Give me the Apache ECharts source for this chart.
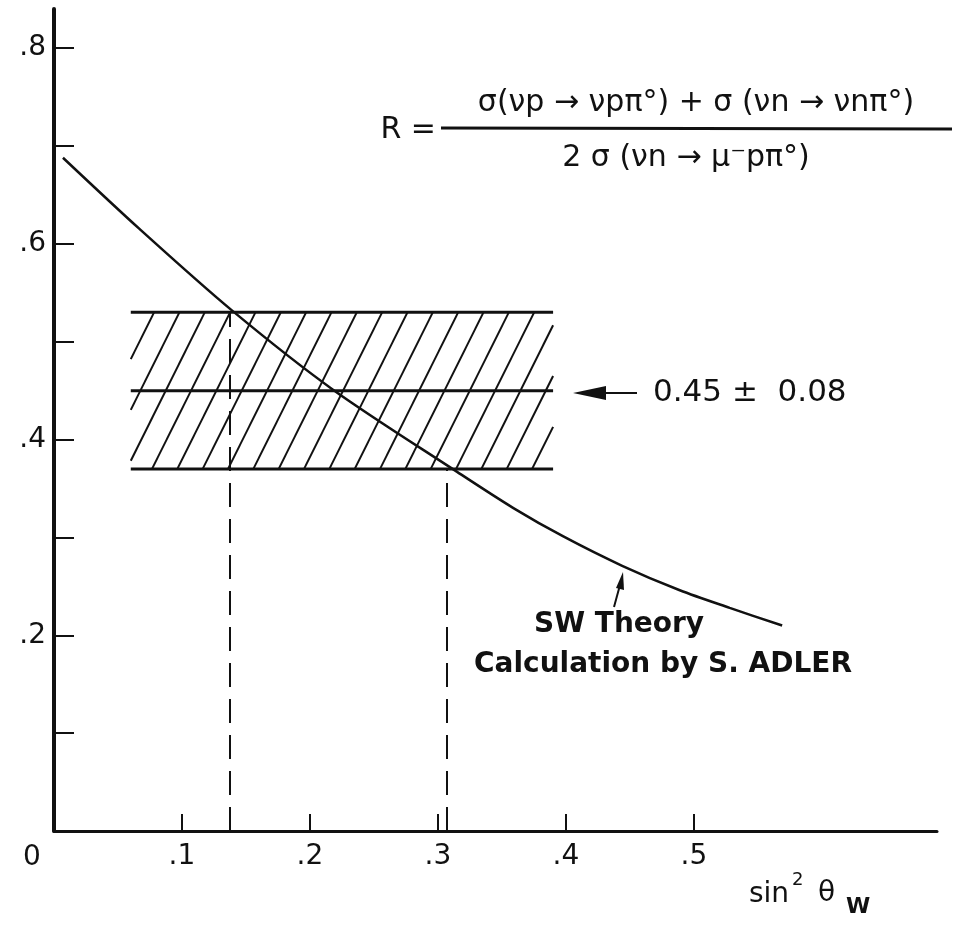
<!DOCTYPE html>
<html>
<head>
<meta charset="utf-8">
<script src="https://cdn.jsdelivr.net/npm/echarts@6/dist/echarts.min.js"></script>
<style>
  html, body { margin: 0; padding: 0; background: #fff; }
  #chart { width: 962px; height: 925px; }
</style>
</head>
<body>
<div id="chart"></div>
<script>
const xTicks = [0.1, 0.2, 0.3, 0.4, 0.5]
const xLabels = ['.1', '.2', '.3', '.4', '.5']
const yTicks = [0.1, 0.2, 0.3, 0.4, 0.5, 0.6, 0.7, 0.8]
const yLabels = ['', '.2', '', '.4', '', '.6', '', '.8']

// SW theory curve (Adler)
const curveX = [0.007, 0.067, 0.139, 0.218, 0.315, 0.359, 0.398, 0.444, 0.489, 0.528, 0.569]
const curveR = [0.688, 0.615, 0.532, 0.451, 0.367, 0.330, 0.301, 0.271, 0.246, 0.228, 0.210]

// measured R = 0.45 +- 0.08
const bandR = [0.37, 0.45, 0.53]
const bandX = [0.06, 0.39]
// where the curve meets the band edges
const crossX = [0.137, 0.307]
const crossR = [0.53, 0.37]

const FONT = 'DejaVu Sans'
const INK = '#111'

// hatching inside the band, leaning like "/"
const hatchStep = 0.0198
const hatchLean = 0.061
const hatch = []
for (let xb = 0.0766 - 4 * hatchStep; xb < bandX[1]; xb += hatchStep) {
    const h = bandR[2] - bandR[0]
    let xa = xb, ya = bandR[0]
    let xt = xb + hatchLean, yt = bandR[2]
    if (xa < bandX[0]) { ya = bandR[0] + (bandX[0] - xb) / hatchLean * h; xa = bandX[0] }
    if (xt > bandX[1]) { yt = bandR[0] + (bandX[1] - xb) / hatchLean * h; xt = bandX[1] }
    if (ya < yt) hatch.push({ coords: [[xa, ya], [xt, yt]] })
}

const chart = echarts.init(document.getElementById('chart'))

const option = {
    animation: false,
    backgroundColor: '#fff',
    grid: { left: 54, right: 25, top: 9, bottom: 94 },
    xAxis: {
        type: 'value',
        min: 0,
        max: 0.69,
        splitLine: { show: false },
        axisLine: { show: true, lineStyle: { color: INK, width: 3 } },
        axisTick: { show: true, inside: true, length: 17, customValues: xTicks, lineStyle: { color: INK, width: 2 } },
        axisLabel: {
            customValues: xTicks,
            formatter: v => xLabels[xTicks.findIndex(t => Math.abs(t - v) < 1e-6)] || '',
            fontFamily: FONT, fontSize: 28, color: INK, margin: 12
        }
    },
    yAxis: {
        type: 'value',
        min: 0,
        max: 0.84,
        splitLine: { show: false },
        axisLine: { show: true, lineStyle: { color: INK, width: 4 } },
        axisTick: { show: true, inside: true, length: 20, customValues: yTicks, lineStyle: { color: INK, width: 2 } },
        axisLabel: {
            customValues: yTicks,
            formatter: v => yLabels[yTicks.findIndex(t => Math.abs(t - v) < 1e-6)] || '',
            fontFamily: FONT, fontSize: 28, color: INK, margin: 8
        }
    },
    series: [
        {
            type: 'line',
            smooth: 0.3,
            showSymbol: false,
            data: curveX.map((x, i) => [x, curveR[i]]),
            lineStyle: { color: INK, width: 2.5 }
        },
        ...bandR.map(r => ({
            type: 'line',
            showSymbol: false,
            data: [[bandX[0], r], [bandX[1], r]],
            lineStyle: { color: INK, width: 3 }
        })),
        {
            type: 'lines',
            coordinateSystem: 'cartesian2d',
            data: hatch,
            lineStyle: { color: INK, width: 2, opacity: 1 }
        },
        {
            type: 'lines',
            coordinateSystem: 'cartesian2d',
            data: crossX.map((x, i) => ({ coords: [[x, 0], [x, crossR[i]]] })),
            lineStyle: { color: INK, width: 2, type: [24, 12], opacity: 1 }
        }
    ]
}
chart.setOption(option)

const origin = chart.convertToPixel({ gridIndex: 0 }, [0, 0])
const txt = (x, y, text, size, extra) => ({
    type: 'text', x: x, y: y,
    style: Object.assign({ text: text, fontFamily: FONT, fontSize: size, fill: INK, verticalAlign: 'middle' }, extra || {})
})

chart.setOption({
    graphic: [
        // corner zero
        txt(origin[0] - 22, origin[1] + 27, '0', 28, { align: 'center' }),
        // formula
        txt(436, 130, 'R =', 30, { align: 'right' }),
        txt(696, 103, 'σ(νp → νpπ°) + σ (νn → νnπ°)', 30, { align: 'center' }),
        { type: 'line', shape: { x1: 441, y1: 128, x2: 952, y2: 129 }, style: { stroke: INK, lineWidth: 3 } },
        txt(686, 158, '2 σ (νn → μ⁻pπ°)', 30, { align: 'center' }),
        // band value arrow
        { type: 'line', shape: { x1: 600, y1: 393, x2: 637, y2: 393 }, style: { stroke: INK, lineWidth: 2 } },
        { type: 'polygon', shape: { points: [[573, 393], [606, 386], [606, 400]] }, style: { fill: INK } },
        txt(653, 393, '0.45 ±  0.08', 31, { align: 'left' }),
        // theory arrow
        { type: 'line', shape: { x1: 614, y1: 607, x2: 620, y2: 585 }, style: { stroke: INK, lineWidth: 2 } },
        { type: 'polygon', shape: { points: [[623, 572], [616, 588], [624, 590]] }, style: { fill: INK } },
        txt(534, 625, 'SW Theory', 28, { align: 'left', fontWeight: 'bold' }),
        txt(474, 665, 'Calculation by S. ADLER', 28, { align: 'left', fontWeight: 'bold' }),
        // x axis name
        txt(749, 895, 'sin', 28, { align: 'left' }),
        txt(792, 880, '2', 18, { align: 'left' }),
        txt(818, 894, 'θ', 28, { align: 'left' }),
        txt(846, 907, 'W', 22, { align: 'left', fontWeight: 'bold' })
    ]
})

window.addEventListener('resize', () => {
    chart.resize()
})
</script>
</body>
</html>
